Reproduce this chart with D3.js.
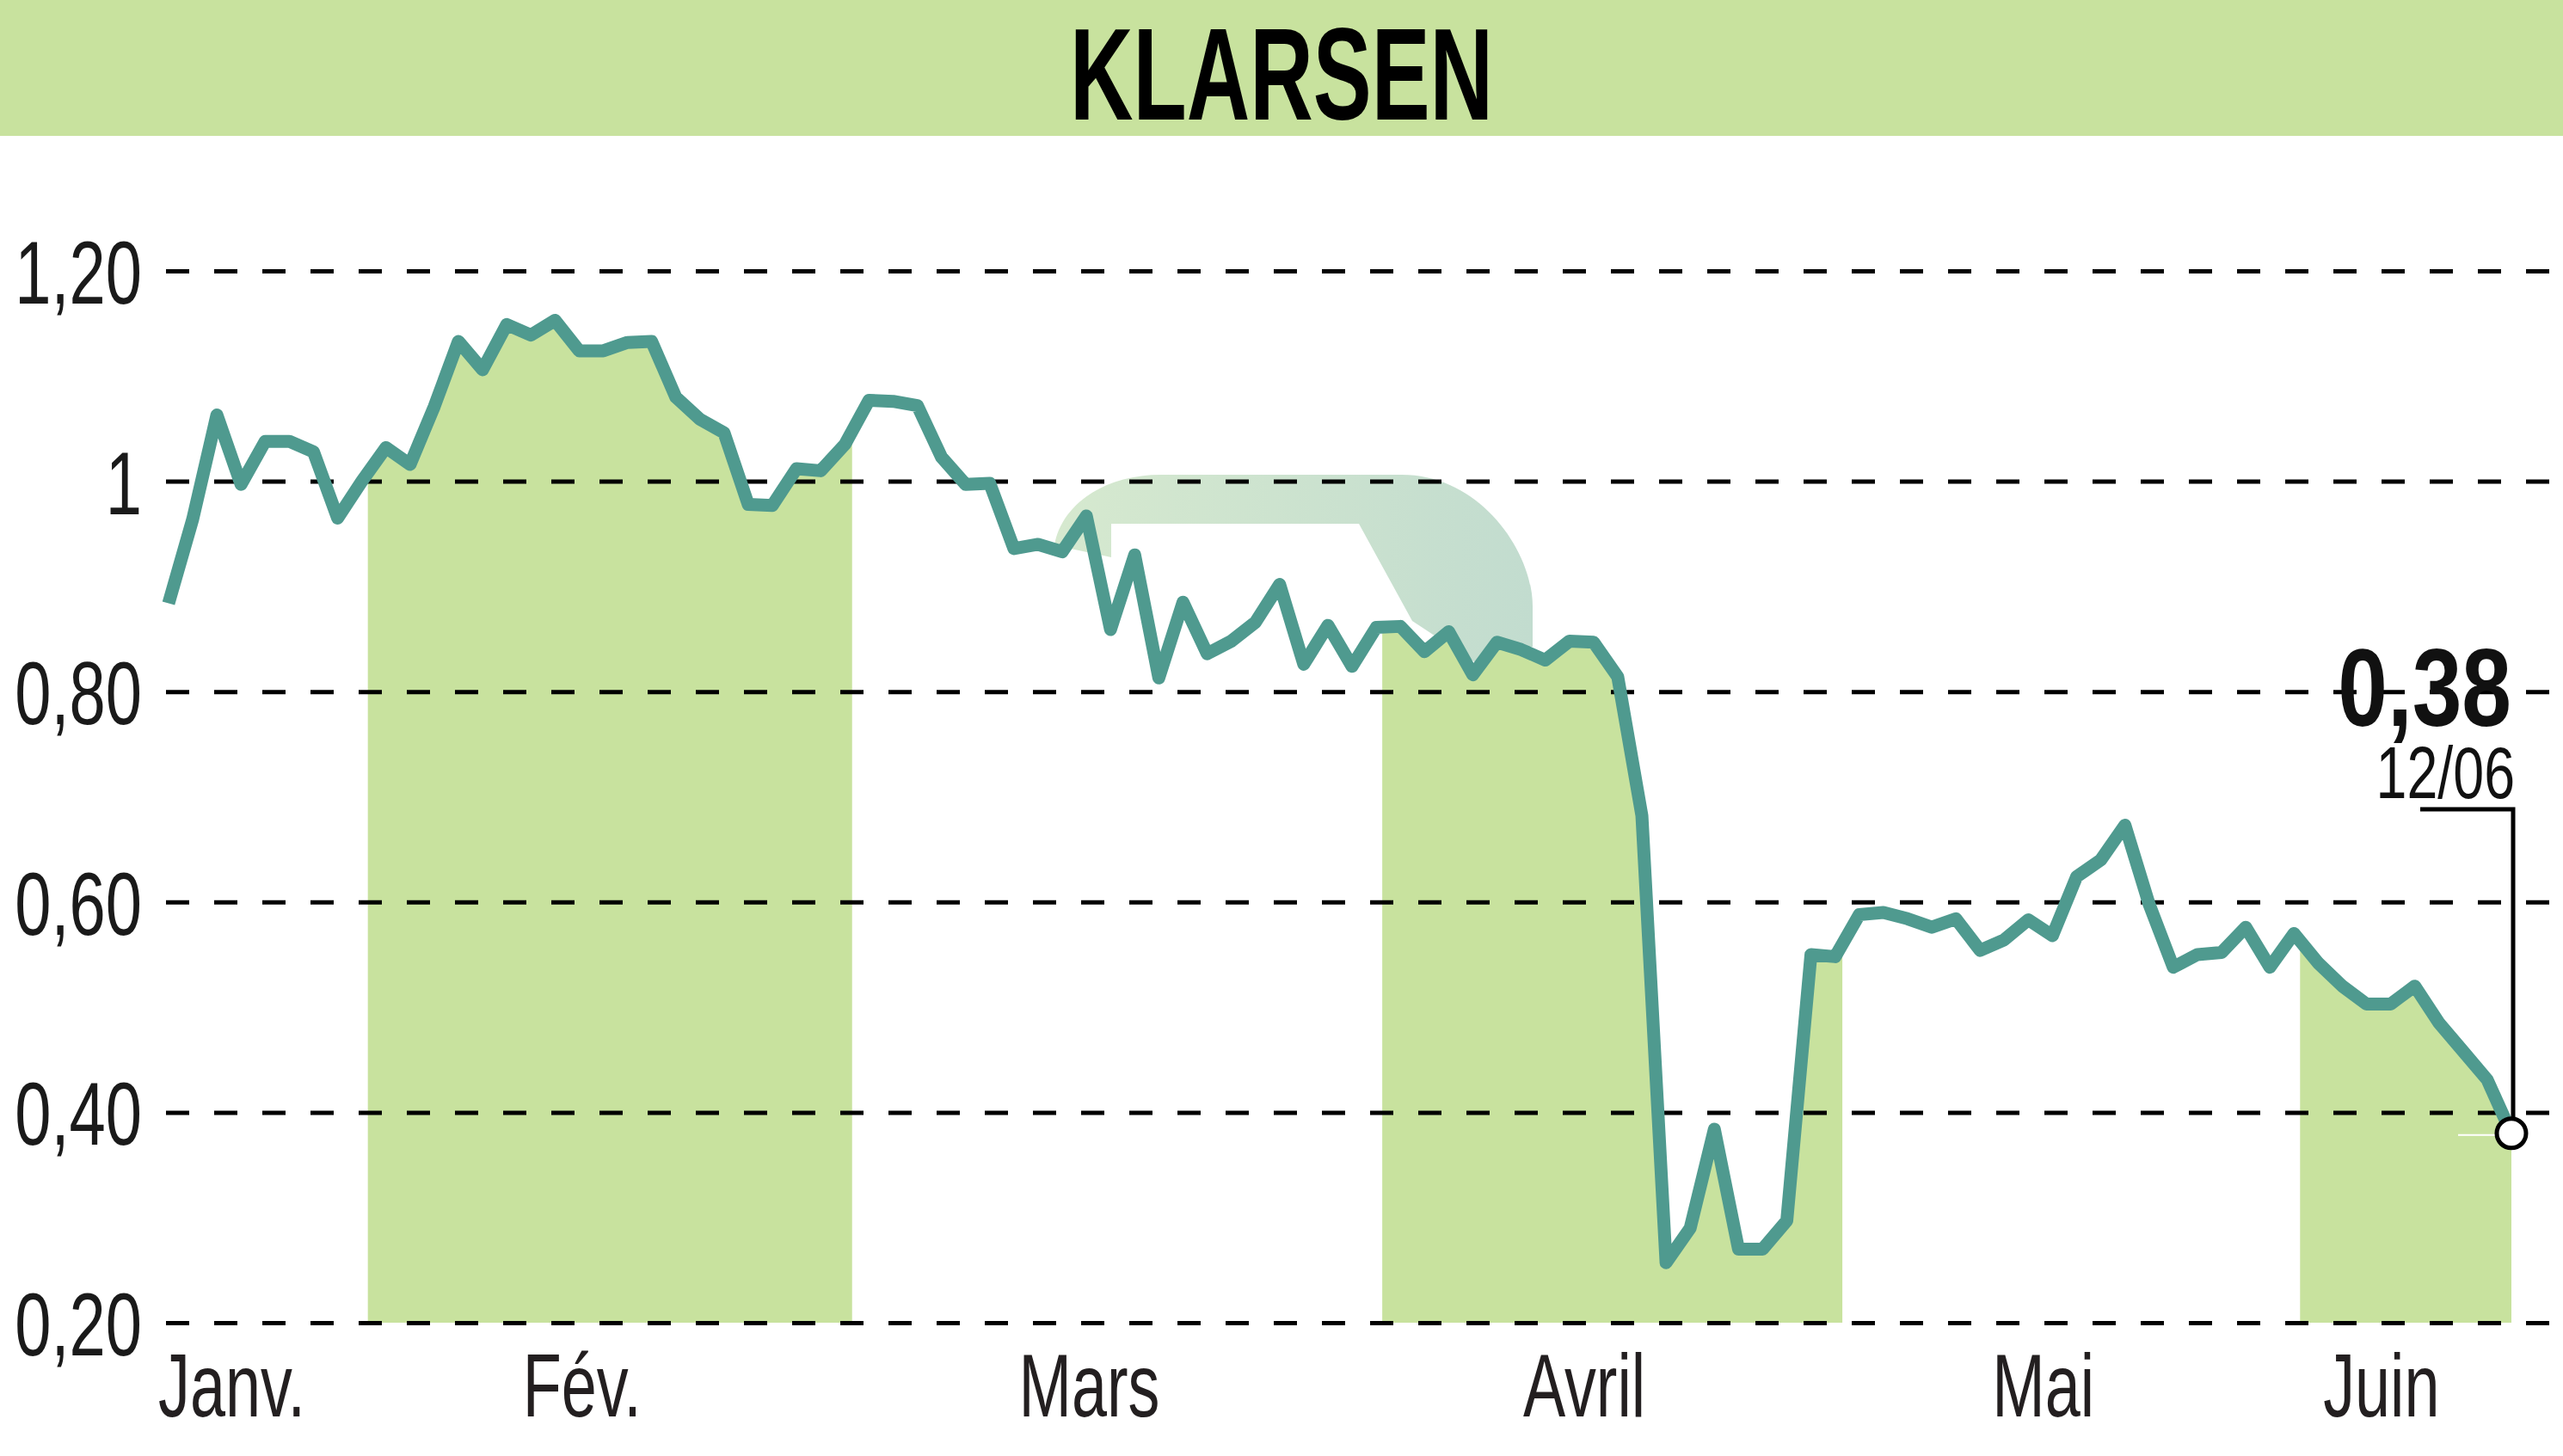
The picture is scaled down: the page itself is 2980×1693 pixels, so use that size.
<!DOCTYPE html>
<html>
<head>
<meta charset="utf-8">
<script src="https://cdn.jsdelivr.net/npm/d3@7"></script>
<style>
  html, body { margin: 0; padding: 0; background: #fff; }
  svg { display: block; }
</style>
</head>
<body>
<div id="chart"></div>
<script>
// données
const title = "KLARSEN";
const months = ["Janv.", "Fév.", "Mars", "Avril", "Mai", "Juin"];
const monthFirst = [0, 9, 29, 51, 70, 89];
const monthLast = [8, 28, 50, 69, 88, 97];
const shadedMonths = [false, true, false, true, false, true];
const prices = [
  0.884, 0.964, 1.063, 0.997, 1.038, 1.038, 1.028, 0.965, 1.000,
  1.032, 1.016, 1.071, 1.133, 1.106, 1.149, 1.139, 1.153, 1.124, 1.124,
  1.132, 1.133, 1.080, 1.059, 1.046, 0.978, 0.977, 1.012, 1.010, 1.035,
  1.077, 1.076, 1.072, 1.023, 0.997, 0.998, 0.936, 0.940, 0.933, 0.967,
  0.859, 0.930, 0.813, 0.885, 0.836, 0.848, 0.866, 0.902, 0.826, 0.863,
  0.824, 0.861,
  0.862, 0.838, 0.857, 0.816, 0.847, 0.840, 0.830, 0.848, 0.847, 0.814,
  0.682, 0.257, 0.290, 0.384, 0.270, 0.270, 0.297, 0.550, 0.548,
  0.588, 0.590, 0.584, 0.576, 0.584, 0.554, 0.564, 0.583, 0.568, 0.624,
  0.640, 0.673, 0.598, 0.538, 0.550, 0.552, 0.576, 0.538, 0.570,
  0.542, 0.520, 0.503, 0.503, 0.520, 0.485, 0.458, 0.431, 0.380
];
const yTicks = [0.2, 0.4, 0.6, 0.8, 1.0, 1.2];
const yTickLabels = ["0,20", "0,40", "0,60", "0,80", "1", "1,20"];
const lastLabel = "0,38";
const lastDate = "12/06";

const width = 2980;
const height = 1693;
const font = "'Liberation Sans', Arial, sans-serif";
const lineColor = "#4f9a8f";
const green = "#c8e29e";

const svg = d3.select("#chart").append("svg")
    .attr("width", width)
    .attr("height", height);

// échelles
const x = d3.scaleLinear().domain([0, prices.length - 1]).range([196, 2920]);
const y = d3.scaleLinear().domain([0.2, 1.2]).range([1538, 315]);

// bandeau du titre
svg.append("rect")
    .attr("x", 0).attr("y", 0)
    .attr("width", width).attr("height", 158)
    .attr("fill", green);

svg.append("text")
    .attr("transform", `translate(${width / 2},139) scale(0.67,1)`)
    .attr("text-anchor", "middle")
    .style("font-family", font)
    .style("font-weight", "bold")
    .style("font-size", "152px")
    .attr("fill", "#000")
    .text(title);

// logo en filigrane
const defs = svg.append("defs");
const wm = defs.append("linearGradient")
    .attr("id", "wmGrad")
    .attr("x1", "0%").attr("y1", "0%")
    .attr("x2", "100%").attr("y2", "0%");
wm.append("stop").attr("offset", "0%").attr("stop-color", "#d6e9cf");
wm.append("stop").attr("offset", "100%").attr("stop-color", "#c2dccf");

svg.append("path")
    .attr("d", "M1226,634 C1234,588 1282,552 1350,552 L1630,552 " +
               "C1720,552 1782,640 1782,705 L1782,752 L1715,770 L1642,722 " +
               "L1580,609 L1292,609 L1292,648 Z")
    .attr("fill", "url(#wmGrad)");

// zones vertes sous la courbe (un mois sur deux)
const clip = defs.append("clipPath").attr("id", "monthClip");
months.forEach((m, i) => {
    if (!shadedMonths[i]) return;
    clip.append("rect")
        .attr("x", x(monthFirst[i] - 0.75))
        .attr("y", 0)
        .attr("width", x(monthLast[i] + 0.3) - x(monthFirst[i] - 0.75))
        .attr("height", height);
});

const area = d3.area()
    .x((d, i) => x(i))
    .y0(y(0.2))
    .y1(d => y(d));

svg.append("path")
    .datum(prices)
    .attr("d", area)
    .attr("fill", green)
    .attr("clip-path", "url(#monthClip)");

// grille et étiquettes de l'axe Y
const yAxis = svg.append("g")
    .attr("transform", "translate(193,0)")
    .call(d3.axisLeft(y)
        .tickValues(yTicks)
        .tickFormat((d, i) => yTickLabels[i])
        .tickSizeInner(-(width - 193))
        .tickSizeOuter(0)
        .tickPadding(30));

yAxis.select(".domain").remove();
yAxis.selectAll(".tick line")
    .attr("stroke", "#000")
    .attr("stroke-width", 5)
    .attr("stroke-dasharray", "27,29");
yAxis.selectAll(".tick text")
    .attr("x", null)
    .attr("dy", "0.36em")
    .attr("transform", "translate(-28,0) scale(0.73,1)")
    .attr("fill", "#1a1a1a")
    .style("font-family", font)
    .style("font-size", "104px");

// étiquettes des mois
const monthCenters = months.map((m, i) => (monthFirst[i] + monthLast[i]) / 2 - 1.4);
const xAxis = svg.append("g")
    .attr("transform", "translate(0,1647)")
    .call(d3.axisBottom(x)
        .tickValues(monthCenters)
        .tickFormat((d, i) => months[i])
        .tickSize(0));

xAxis.select(".domain").remove();
xAxis.selectAll(".tick text")
    .attr("y", null)
    .attr("dy", null)
    .attr("transform", "scale(0.71,1)")
    .attr("fill", "#231f20")
    .style("font-family", font)
    .style("font-size", "104px");

// courbe du cours
const line = d3.line()
    .x((d, i) => x(i))
    .y(d => y(d));

svg.append("path")
    .datum(prices)
    .attr("d", line)
    .attr("fill", "none")
    .attr("stroke", lineColor)
    .attr("stroke-width", 15)
    .attr("stroke-linejoin", "round");

// dernier cours
const lastI = prices.length - 1;
const lx = x(lastI);
const ly = y(prices[lastI]);

svg.append("path")
    .attr("d", `M${lx - 106},941 H${lx + 2} V${ly - 17}`)
    .attr("fill", "none")
    .attr("stroke", "#000")
    .attr("stroke-width", 5);

svg.append("line")
    .attr("x1", lx - 62).attr("x2", lx - 19)
    .attr("y1", ly + 2).attr("y2", ly + 2)
    .attr("stroke", "#fff")
    .attr("stroke-width", 2);

svg.append("circle")
    .attr("cx", lx).attr("cy", ly)
    .attr("r", 17)
    .attr("fill", "#fff")
    .attr("stroke", "#000")
    .attr("stroke-width", 5);

svg.append("text")
    .attr("transform", `translate(${lx},844) scale(0.81,1)`)
    .attr("text-anchor", "end")
    .style("font-family", font)
    .style("font-weight", "bold")
    .style("font-size", "128px")
    .attr("fill", "#111")
    .text(lastLabel);

svg.append("text")
    .attr("transform", `translate(${lx + 4},928) scale(0.75,1)`)
    .attr("text-anchor", "end")
    .style("font-family", font)
    .style("font-size", "86px")
    .attr("fill", "#111")
    .text(lastDate);
</script>
</body>
</html>
